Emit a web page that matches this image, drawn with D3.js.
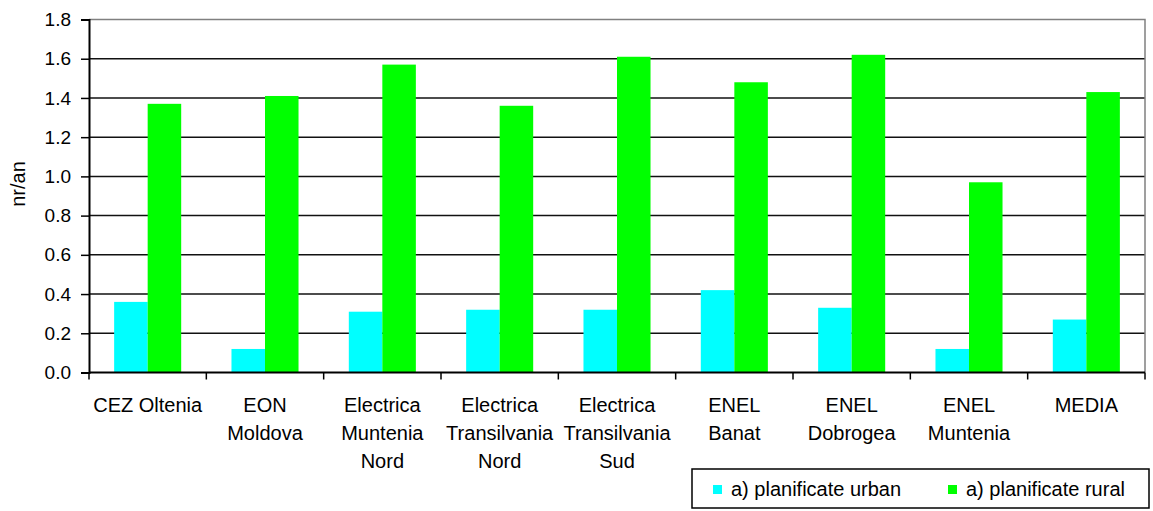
<!DOCTYPE html>
<html>
<head>
<meta charset="utf-8">
<script src="https://cdn.jsdelivr.net/npm/d3@7"></script>
<style>
  body { margin: 0; background: #fff; }
  text { font-family: Arial, "Liberation Sans", sans-serif; fill: #000; }
</style>
</head>
<body>
<svg id="chart" width="1153" height="511"></svg>
<script>
// categories (multi-line labels)
const categories = [
    ["CEZ Oltenia"],
    ["EON", "Moldova"],
    ["Electrica", "Muntenia", "Nord"],
    ["Electrica", "Transilvania", "Nord"],
    ["Electrica", "Transilvania", "Sud"],
    ["ENEL", "Banat"],
    ["ENEL", "Dobrogea"],
    ["ENEL", "Muntenia"],
    ["MEDIA"]
];
const seriesNames = ["a) planificate urban", "a) planificate rural"];
const urban = [0.36, 0.12, 0.31, 0.32, 0.32, 0.42, 0.33, 0.12, 0.27];
const rural = [1.37, 1.41, 1.57, 1.36, 1.61, 1.48, 1.62, 0.97, 1.43];
const yTicks = [0, 0.2, 0.4, 0.6, 0.8, 1.0, 1.2, 1.4, 1.6, 1.8];
const colors = ["#00ffff", "#00ff00"];

const svg = d3.select('#chart');
const margin = {left: 89, right: 8, top: 19.5, bottom: 138.5};
const width = 1153 - margin.left - margin.right;
const height = 511 - margin.top - margin.bottom;

const g = svg.append('g').attr('transform', `translate(${margin.left},${margin.top})`);

const x = d3.scaleBand()
    .domain(d3.range(categories.length))
    .range([0, width])
    .padding(0);

// excel gap width 150%
const xs = d3.scaleBand()
    .domain(seriesNames)
    .range([0, x.bandwidth()])
    .paddingInner(0)
    .paddingOuter(0.75);

const y = d3.scaleLinear().domain([0, 1.8]).range([height, 0]);

// gridlines
g.append('g')
    .selectAll('line')
    .data(yTicks.filter(t => t > 0 && t < 1.8))
    .enter()
    .append('line')
    .attr('x1', 0)
    .attr('x2', width)
    .attr('y1', d => y(d))
    .attr('y2', d => y(d))
    .attr('stroke', '#111')
    .attr('stroke-width', 1.5);

// plot border (top / right)
g.append('path')
    .attr('d', `M0,${y(1.8)}H${width}V${height}`)
    .attr('fill', 'none')
    .attr('stroke', '#808080')
    .attr('stroke-width', 1.5);

// bars
const rows = categories.map((c, i) => ({i: i, values: [urban[i], rural[i]]}));
const groups = g.append('g')
    .selectAll('g')
    .data(rows)
    .enter()
    .append('g')
    .attr('transform', d => `translate(${x(d.i)},0)`);

groups.selectAll('rect')
    .data(d => d.values.map((v, k) => ({name: seriesNames[k], v: v, k: k})))
    .enter()
    .append('rect')
    .attr('x', d => xs(d.name))
    .attr('width', xs.bandwidth())
    .attr('y', d => y(d.v))
    .attr('height', d => height - y(d.v))
    .attr('fill', d => colors[d.k]);

// y axis
const yAxis = g.append('g')
    .call(d3.axisLeft(y).tickValues(yTicks).tickFormat(d3.format('.1f')).tickSize(8).tickPadding(10));
yAxis.select('.domain').attr('stroke', '#000').attr('stroke-width', 2);
yAxis.selectAll('.tick line').attr('stroke', '#000').attr('stroke-width', 1.5);
yAxis.selectAll('text').attr('font-size', 19).attr('fill', '#000').style('font-family', 'Arial, "Liberation Sans", sans-serif');

// x axis
const xAxis = g.append('g').attr('transform', `translate(0,${height})`);
xAxis.append('line')
    .attr('x1', 0).attr('x2', width)
    .attr('stroke', '#000').attr('stroke-width', 2);
xAxis.selectAll('line.tk')
    .data(d3.range(categories.length + 1))
    .enter()
    .append('line')
    .attr('class', 'tk')
    .attr('x1', d => d * x.step())
    .attr('x2', d => d * x.step())
    .attr('y1', 0)
    .attr('y2', 7)
    .attr('stroke', '#000')
    .attr('stroke-width', 1.5);

const labels = xAxis.selectAll('text.cat')
    .data(rows)
    .enter()
    .append('text')
    .attr('class', 'cat')
    .attr('text-anchor', 'middle')
    .attr('font-size', 20)
    .attr('transform', d => `translate(${x(d.i) + x.bandwidth() / 2},0)`);
labels.selectAll('tspan')
    .data(d => categories[d.i])
    .enter()
    .append('tspan')
    .attr('x', 0)
    .attr('y', (d, k) => 39.5 + k * 28)
    .text(d => d);

// y axis title
svg.append('text')
    .attr('transform', 'translate(25,184) rotate(-90)')
    .attr('text-anchor', 'middle')
    .attr('font-size', 20)
    .text('nr/an');

// legend
const legend = svg.append('g').attr('transform', 'translate(692,469)');
legend.append('rect')
    .attr('x', 0).attr('y', 0)
    .attr('width', 457).attr('height', 39)
    .attr('fill', '#fff')
    .attr('stroke', '#000')
    .attr('stroke-width', 1.5);
const items = legend.selectAll('g.item')
    .data(seriesNames)
    .enter()
    .append('g')
    .attr('class', 'item')
    .attr('transform', (d, i) => `translate(${[21, 256][i]},0)`);
items.append('rect')
    .attr('x', 0).attr('y', 16)
    .attr('width', 9).attr('height', 9)
    .attr('fill', (d, i) => colors[i]);
items.append('text')
    .attr('x', 18)
    .attr('y', 27)
    .attr('font-size', 20)
    .text(d => d);
</script>
</body>
</html>
